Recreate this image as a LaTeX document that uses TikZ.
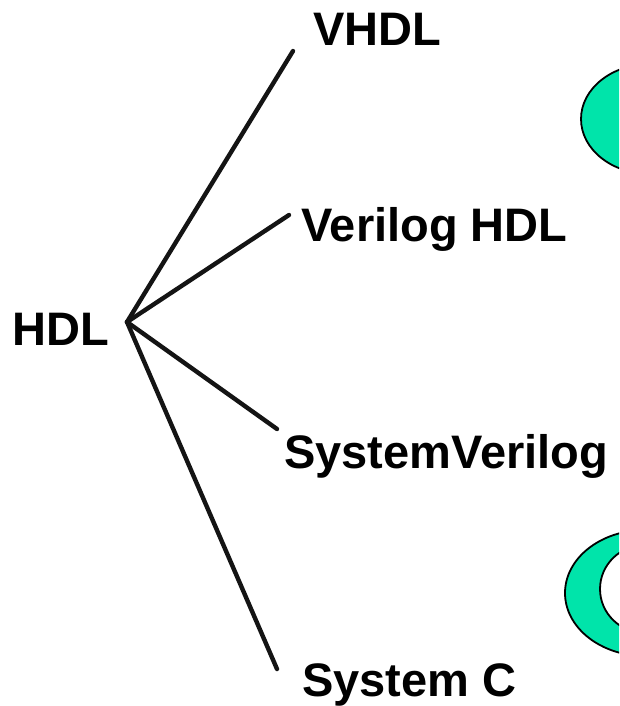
\documentclass[tikz,border=0pt]{standalone}
\usepackage{fontspec}
\setmainfont{Liberation Sans}
\usepackage{xcolor}
\usepackage{tikz}
\usetikzlibrary{positioning, calc}

\definecolor{leafgreen}{RGB}{0,228,170}

\begin{document}
\begin{tikzpicture}[
    x=1pt, y=-1pt,
    label/.style={
        anchor=base west,
        inner sep=0pt,
        font=\fontsize{47}{56}\selectfont\bfseries
    },
    branch/.style={
        line width=4.4pt,
        line cap=round,
        draw=black!92
    },
    blob/.style={
        fill=leafgreen,
        draw=black,
        line width=1.8pt
    }
]
\useasboundingbox (0,0) rectangle (619,706);
\clip (0,0) rectangle (619,706);

% Green shapes (cut by the right edge)
\draw[blob] (650,119) ellipse [x radius=69, y radius=55];
\draw[blob, even odd rule] (645,593) ellipse [x radius=80, y radius=63]
                           (645,589) ellipse [x radius=45, y radius=44];

% Labels
\node[label] (hdl) at (12,345) {HDL};
\node[label] (vhdl) at (313,46) {VHDL};
\node[label] (verilog) at (301,241) {Verilog HDL};
\node[label] (sysverilog) at (284,468) {SystemVerilog};
\node[label] (systemc) at (302,696) {System C};

% Line ends
\coordinate (hub) at (127,322);
\coordinate (vhdl-end) at (293,51);
\coordinate (verilog-end) at (289,215);
\coordinate (sysverilog-end) at (277,429);
\coordinate (systemc-end) at (277,669);

% Lines
\draw[branch] (hub) -- (vhdl-end);
\draw[branch] (hub) -- (verilog-end);
\draw[branch] (hub) -- (sysverilog-end);
\draw[branch] (hub) -- (systemc-end);
\end{tikzpicture}
\end{document}
